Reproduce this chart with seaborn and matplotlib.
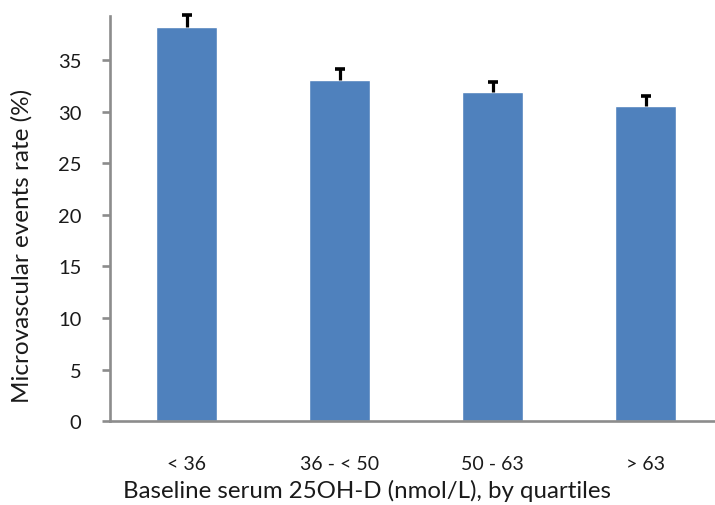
import matplotlib
matplotlib.use("Agg")
import matplotlib.pyplot as plt
import seaborn as sns
import pandas as pd
import numpy as np

quartiles = ['< 36', '36 - < 50', '50 - 63', '> 63']
event_rate = [38.25, 33.1, 31.9, 30.55]
err_upper = [1.15, 1.0, 1.0, 1.0]

df = pd.DataFrame({'quartile': quartiles, 'rate': event_rate})

sns.set_style("white")
plt.rcParams['font.family'] = ['Lato', 'DejaVu Sans']

fig = plt.figure(figsize=(7.15, 5.06), dpi=100)
ax = fig.add_axes([110 / 715, (506 - 422.3) / 506, 612 / 715, (422.3 - 17) / 506])

sns.barplot(data=df, x='quartile', y='rate', color='#4F81BD', saturation=1,
            width=0.40, errorbar=None, ax=ax)

# only the upper half of the error bar is shown
xpos = np.arange(len(quartiles))
tops = np.array(event_rate) + np.array(err_upper)
ax.vlines(xpos, event_rate, tops, color='black', linewidth=2.3, zorder=3, clip_on=False)
ax.plot(xpos, tops, linestyle='none', marker='_', markersize=7, markeredgewidth=2.6,
        color='black', zorder=3, clip_on=False)

ax.set_xlim(-0.5, 3.5)
ax.set_ylim(0, 39.27)
ax.set_yticks(range(0, 40, 5))

for side in ['top', 'right']:
    ax.spines[side].set_visible(False)
for side in ['left', 'bottom']:
    ax.spines[side].set_color('#8c8c8c')
    ax.spines[side].set_linewidth(1.9)

ax.set_xticks([-0.5, 0.5, 1.5, 2.5], minor=True)
ax.tick_params(axis='x', which='major', length=0, pad=24, labelsize=14, labelcolor='#1a1a1a')
ax.tick_params(axis='x', which='minor', length=5.5, width=1.9, color='#8c8c8c', direction='out')
ax.tick_params(axis='y', length=5.5, width=1.9, color='#8c8c8c', direction='out', pad=15,
               labelsize=14.5, labelcolor='#1a1a1a', left=True)

ax.set_xlabel('Baseline serum 25OH-D (nmol/L), by quartiles', fontsize=17.3,
              color='#1a1a1a')
ax.xaxis.set_label_coords((367 - 110) / 612, -0.142)
ax.set_ylabel('Microvascular events rate (%)', fontsize=17.5, color='#1a1a1a')
ax.yaxis.set_label_coords((33 - 110) / 612, 0.435)

fig.savefig('out.png', dpi=100)
